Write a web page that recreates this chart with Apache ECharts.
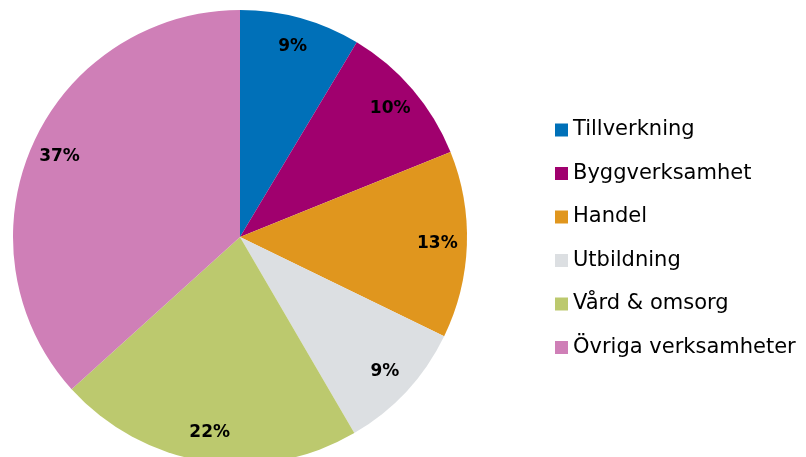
<!DOCTYPE html>
<html>
<head>
<meta charset="utf-8">
<script src="https://cdn.jsdelivr.net/npm/echarts@6/dist/echarts.min.js"></script>
<style>
  html, body { margin: 0; padding: 0; background: #fff; }
  #chart { width: 806px; height: 457px; }
</style>
</head>
<body>
<div id="chart"></div>
<script>
// andelar per verksamhetstyp
const categories = ['Tillverkning', 'Byggverksamhet', 'Handel', 'Utbildning', 'Vård & omsorg', 'Övriga verksamheter']
const shares = [8.6, 10.3, 13.3, 9.4, 21.7, 36.7]
const colors = ['#0070b8', '#a0006e', '#e0961e', '#dcdfe2', '#bcc96e', '#cf7fb7']

const pieData = categories.map((name, i) => ({ name, value: shares[i] }))

const chart = echarts.init(document.getElementById('chart'))

chart.setOption({
  animation: false,
  color: colors,
  legend: {
    orient: 'vertical',
    left: 550,
    top: 114,
    icon: 'rect',
    itemWidth: 13,
    itemHeight: 13,
    itemGap: 21.5,
    data: categories,
    textStyle: {
      fontFamily: 'DejaVu Sans',
      fontSize: 21,
      lineHeight: 22,
      color: '#000'
    }
  },
  series: [
    {
      name: 'andel',
      type: 'pie',
      center: [240, 237],
      radius: [0, 227],
      startAngle: 90,
      clockwise: true,
      label: { show: false },
      labelLine: { show: false },
      emphasis: { disabled: true },
      data: pieData
    },
    {
      // osynlig ring, bara för att lägga etiketterna nära kanten
      name: 'etiketter',
      type: 'pie',
      center: [240, 237],
      radius: [162, 227],
      startAngle: 90,
      clockwise: true,
      silent: true,
      itemStyle: { color: 'rgba(0,0,0,0)' },
      label: {
        show: true,
        position: 'inside',
        formatter: p => Math.round(p.percent) + '%',
        fontFamily: 'DejaVu Sans',
        fontWeight: 'bold',
        fontSize: 17,
        color: '#000'
      },
      labelLine: { show: false },
      emphasis: { disabled: true },
      data: pieData
    }
  ]
})
</script>
</body>
</html>
